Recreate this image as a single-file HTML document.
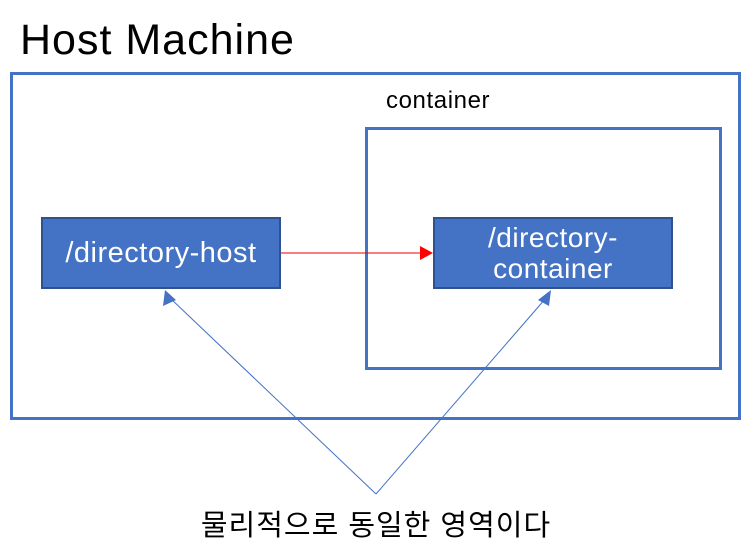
<html><body style="margin:0;width:756px;height:554px;background:#fff;position:relative;overflow:hidden;font-family:'Liberation Sans','Noto Sans CJK KR',sans-serif">
<div style="position:absolute;left:20px;top:16px;font-size:43px;letter-spacing:1px;color:#000">Host Machine</div>
<div style="position:absolute;left:10px;top:72px;width:725px;height:342px;border:3px solid #4472c4"></div>
<div style="position:absolute;left:386px;top:87px;font-size:24px;letter-spacing:0.6px">container</div>
<div style="position:absolute;left:365px;top:127px;width:351px;height:237px;border:3px solid #4472c4"></div>
<div style="position:absolute;left:41px;top:217px;width:236px;height:68px;background:#4472c4;border:2px solid #2f528f;color:#fff;font-size:29px;letter-spacing:0.5px;display:flex;align-items:center;justify-content:center">/directory-host</div>
<div style="position:absolute;left:433px;top:217px;width:236px;height:68px;background:#4472c4;border:2px solid #2f528f;color:#fff;font-size:28px;letter-spacing:0.5px;line-height:31px;display:flex;align-items:center;justify-content:center;text-align:center">/directory-<br>container</div>
<svg width="756" height="554" style="position:absolute;left:0;top:0">
<line x1="281" y1="253" x2="422" y2="253" stroke="#e00" stroke-width="1"/>
<polygon points="433,253 420,246 420,260" fill="#f00"/>
<line x1="376" y1="494" x2="170" y2="298" stroke="#4472c4" stroke-width="1"/>
<polygon points="165,290 163,306 176,300" fill="#4472c4"/>
<line x1="376" y1="494" x2="546" y2="298" stroke="#4472c4" stroke-width="1"/>
<polygon points="551,290 538,300 549,306" fill="#4472c4"/>
</svg>
<div style="position:absolute;left:180px;top:502px;width:392px;text-align:center;font-size:29px;letter-spacing:1px">물리적으로 동일한 영역이다</div>
</body></html>
